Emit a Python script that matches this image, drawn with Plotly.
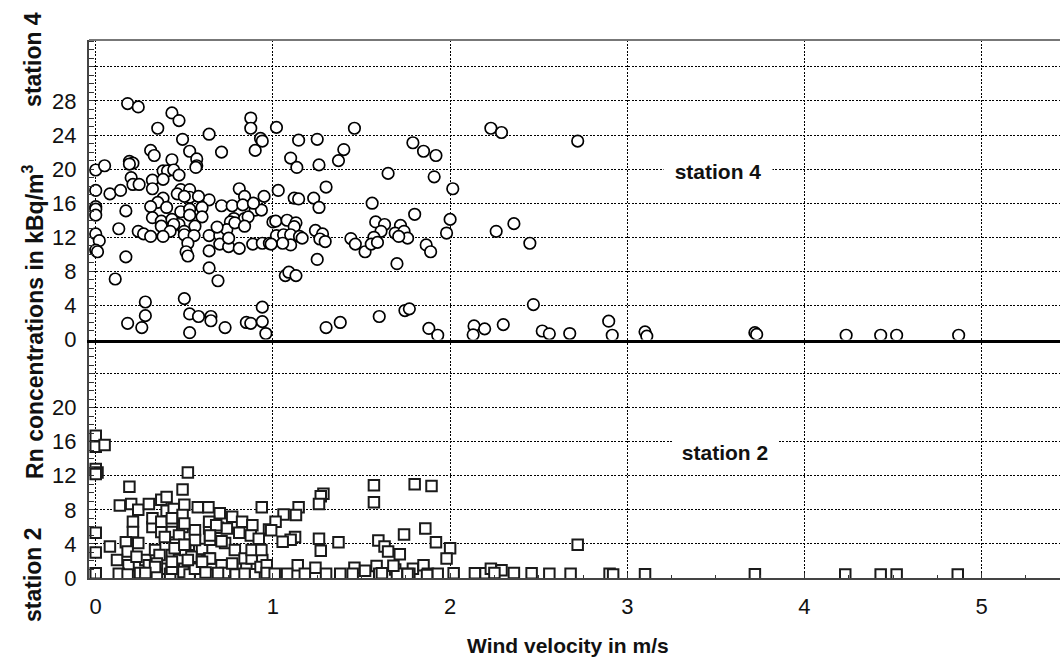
import plotly.graph_objects as go

# Station 4: wind velocity (m/s) and Rn concentration (kBq/m3)
wind4 = [
    0.18, 0.24, 0.43, 0.47, 0.35, 0.875, 0.875, 0.64, 0.49, 0.93, 0.94, 0.90, 0.31, 0.33, 0.53,
    0.71, 0.57, 0.57, 0.565, 0.43, 0.19, 0.21, 0.19, 0.0, 0.05, 0.38, 0.405, 0.44, 0.47, 0.20,
    0.21, 0.245, 0.32, 0.32, 0.38, 0.0, 0.08, 0.14, 0.48, 0.53, 0.53, 0.46, 0.50, 0.81, 0.84,
    0.95, 0.64, 0.0, 0.0, 0.0, 0.17, 0.38, 0.35, 0.31, 0.40, 0.48, 0.53, 0.60, 0.58, 0.71,
    0.77, 0.83, 0.90, 0.935, 0.89, 0.32, 0.37, 0.43, 0.60, 0.53, 0.78, 0.76, 0.84, 0.86, 1.0,
    0.47, 0.44, 0.56, 0.50, 0.37, 0.42, 0.13, 0.0, 0.02, 0.0, 0.01, 0.24, 0.27, 0.31, 0.38,
    0.50, 0.555, 0.52, 0.51, 0.52, 0.64, 0.70, 0.74, 0.685, 0.785, 0.84, 0.64, 0.70, 0.75, 0.81,
    0.75, 0.886, 0.94, 0.98, 0.17, 0.64, 0.11, 0.69, 0.50, 0.28, 0.28, 0.18, 0.26, 0.53, 0.58,
    0.65, 0.65, 0.53, 0.73, 0.85, 0.875, 0.94, 0.94, 0.96,
    1.02, 1.145, 1.25, 1.46, 1.10, 1.135, 1.26, 1.37, 1.40, 1.65, 1.79, 1.85, 1.92, 1.91, 2.015,
    1.03, 1.30, 1.12, 1.145, 1.23, 1.26, 1.56, 1.80, 2.0, 1.98, 1.016, 1.08, 1.13, 1.12, 1.02,
    1.06, 1.10, 1.10, 1.15, 1.165, 1.055, 0.99, 1.24, 1.28, 1.265, 1.295, 1.44, 1.465, 1.52, 1.58,
    1.63, 1.61, 1.57, 1.555, 1.59, 1.72, 1.69, 1.74, 1.76, 1.71, 1.865, 1.89, 1.25, 1.70, 1.07,
    1.09, 1.13, 1.745, 1.77, 1.60, 1.30, 1.38, 1.88, 1.93,
    2.23, 2.29, 2.72, 2.26, 2.36, 2.45, 2.47, 2.135, 2.13, 2.195, 2.30, 2.52, 2.56, 2.675, 2.895,
    2.915, 3.10, 3.11, 3.72, 3.73, 4.235, 4.43, 4.52, 4.87,
]
rn4 = [
    27.7, 27.3, 26.6, 25.7, 24.8, 26.0, 24.8, 24.1, 23.5, 23.6, 23.3, 22.2, 22.2, 21.6, 22.1,
    22.0, 21.2, 20.4, 20.2, 21.1, 20.9, 20.7, 20.6, 19.9, 20.4, 19.8, 19.8, 19.9, 19.3, 19.0,
    18.2, 18.2, 18.7, 17.7, 18.8, 17.5, 17.1, 17.5, 17.6, 17.6, 16.7, 17.1, 16.8, 17.7, 16.8,
    16.8, 16.4, 15.6, 15.3, 14.6, 15.1, 16.6, 16.1, 15.6, 15.5, 15.0, 15.3, 15.5, 16.8, 15.7,
    15.7, 15.8, 15.2, 15.2, 16.0, 14.3, 13.9, 14.1, 14.4, 14.6, 14.2, 13.8, 14.2, 14.4, 13.8,
    13.5, 13.5, 13.3, 12.7, 13.3, 12.7, 13.0, 12.4, 11.6, 10.5, 10.3, 12.7, 12.4, 12.1, 12.1,
    12.3, 12.2, 11.3, 10.3, 9.8, 12.2, 12.2, 12.9, 13.2, 13.7, 13.3, 10.4, 11.2, 10.9, 10.7,
    11.9, 11.2, 11.3, 11.3, 9.7, 8.4, 7.1, 6.9, 4.8, 4.4, 2.8, 1.9, 1.4, 3.0, 2.7,
    2.7, 2.2, 0.8, 1.4, 2.0, 1.9, 3.8, 2.1, 0.7,
    24.9, 23.4, 23.5, 24.8, 21.3, 20.2, 20.5, 21.0, 22.3, 19.5, 23.1, 22.1, 21.6, 19.1, 17.7,
    17.5, 17.9, 16.6, 16.5, 16.6, 15.5, 16.0, 14.7, 14.1, 12.5, 13.9, 14.0, 13.7, 13.25, 12.2,
    12.3, 12.3, 11.1, 12.1, 11.9, 11.3, 11.2, 12.8, 12.4, 11.8, 11.5, 11.85, 11.2, 10.3, 13.8,
    13.5, 12.7, 12.0, 11.2, 11.4, 13.4, 12.5, 12.7, 11.9, 12.1, 11.1, 10.3, 9.4, 8.9, 7.5,
    7.9, 7.5, 3.4, 3.6, 2.7, 1.4, 2.0, 1.3, 0.5,
    24.8, 24.3, 23.3, 12.7, 13.6, 11.3, 4.1, 1.6, 0.55, 1.25, 1.75, 1.0, 0.67, 0.7, 2.15,
    0.5, 0.9, 0.4, 0.8, 0.6, 0.5, 0.5, 0.5, 0.5,
]

# Station 2: wind velocity (m/s) and Rn concentration (kBq/m3)
wind2 = [
    0.0, 0.0, 0.05, 0.0, 0.01, 0.0, 0.52, 0.19, 0.49,
    0.136, 0.20, 0.24, 0.30, 0.37, 0.40, 0.40, 0.44, 0.50, 0.49, 0.576, 0.636, 0.70, 0.77, 0.826,
    0.884, 0.937, 0.978,
    0.21, 0.21, 0.32, 0.37, 0.43, 0.49, 0.56, 0.64, 0.69, 0.74, 0.81, 0.875, 0.92, 0.73,
    0.0, 0.0, 0.0,
    0.08, 0.17, 0.18, 0.24, 0.28, 0.335, 0.36, 0.43, 0.49, 0.525, 0.60, 0.645, 0.71, 0.785, 0.84,
    0.91,
    0.12, 0.185, 0.30, 0.37, 0.47, 0.50, 0.57, 0.64, 0.71, 0.77, 0.85, 0.94,
    0.13, 0.18, 0.25, 0.345, 0.42, 0.495, 0.53, 0.59, 0.655, 0.73, 0.79, 0.84, 0.90, 0.955,
    0.32, 0.37, 0.43, 0.50, 0.64, 0.68, 0.39, 0.47, 0.56, 0.645, 0.45, 0.505, 0.54, 0.23, 0.345,
    0.43, 0.56, 0.88, 0.93,
    0.445, 0.50, 0.645, 0.88, 0.935, 0.335, 0.43, 0.52, 0.60, 0.77, 0.965,
    0.28, 0.62, 0.69, 0.965,
    1.57, 1.57, 1.80, 1.895, 1.285, 1.27, 1.26, 1.145, 1.06, 1.13, 1.015, 0.99, 1.125, 1.10, 1.055,
    1.26, 1.27, 1.37, 1.595, 1.63, 1.65, 1.716, 1.74, 1.86, 1.92, 2.0, 1.98, 1.14, 1.24, 1.46,
    1.52, 1.585, 1.69, 1.79, 1.85, 2.02, 1.01, 1.08, 1.18, 1.30, 1.38, 1.45, 1.60, 1.70, 1.77,
    1.875, 1.93, 1.615, 1.68, 1.87, 1.76,
    2.72, 2.14, 2.20, 2.23, 2.29, 2.25, 2.36, 2.46, 2.56, 2.68, 2.90, 2.92, 3.10, 3.72, 4.23,
    4.43, 4.52, 4.865,
]
rn2 = [
    16.7, 15.4, 15.6, 12.8, 12.4, 12.2, 12.4, 10.7, 10.4,
    8.5, 8.7, 8.0, 8.7, 9.2, 9.5, 7.9, 8.1, 8.6, 7.4, 8.3, 8.3, 7.6, 7.2, 6.6,
    6.2, 8.3, 5.7,
    6.6, 5.4, 6.0, 5.4, 5.4, 6.0, 5.6, 5.8, 5.9, 5.8, 5.3, 5.0, 4.6, 4.1,
    5.3, 3.0, 0.55,
    3.7, 4.2, 3.1, 4.1, 2.1, 3.3, 2.7, 2.7, 3.1, 3.9, 3.4, 4.5, 4.3, 3.3, 2.3,
    3.1,
    2.1, 1.5, 1.5, 1.1, 2.1, 1.1, 2.1, 2.3, 1.5, 1.1, 1.1, 2.1,
    0.5, 0.4, 0.6, 0.4, 0.5, 0.7, 0.4, 0.5, 0.4, 0.6, 0.4, 0.5, 0.45, 0.5,
    7.0, 6.6, 7.0, 6.4, 6.6, 6.2, 4.8, 5.0, 4.45, 5.0, 3.9, 3.3, 2.5, 2.5, 1.7,
    1.1, 1.1, 2.3, 1.3,
    3.5, 3.9, 2.3, 3.3, 3.3, 1.3, 1.9, 2.1, 1.9, 1.7, 1.5,
    0.6, 0.65, 0.6, 0.6,
    10.9, 8.9, 11.0, 10.8, 9.9, 9.6, 8.7, 8.3, 7.45, 7.4, 6.6, 5.6, 4.8, 4.5, 4.25,
    4.6, 3.2, 4.2, 4.4, 3.7, 3.1, 2.8, 5.1, 5.8, 4.2, 3.5, 2.3, 1.5, 1.2, 1.2,
    0.85, 1.4, 1.0, 1.1, 1.5, 0.55, 0.5, 0.5, 0.5, 0.5, 0.5, 0.5, 0.5, 0.5, 0.5,
    0.5, 0.5, 0.55, 1.44, 0.35, 0.47,
    3.9, 0.55, 0.55, 1.1, 0.9, 0.6, 0.6, 0.55, 0.5, 0.5, 0.5, 0.4, 0.45, 0.45, 0.4,
    0.4, 0.4, 0.4,
]

# Axis ticks
x_ticks = [0, 1, 2, 3, 4, 5]
y2_ticks = [0, 4, 8, 12, 16, 20, 24]
y2_labels = ["0", "4", "8", "12", "16", "20", " "]
y4_ticks = [0, 4, 8, 12, 16, 20, 24, 28, 32]
y4_labels = ["0", "4", "8", "12", "16", "20", "24", "28", " "]

X_RANGE = [-0.038, 5.442]
Y2_RANGE = [0, 28]
Y4_RANGE = [0, 35.16]
SPLIT = 0.4433  # fraction of plot height used by the station 2 panel

FONT = "Liberation Sans, Arial, sans-serif"
GRID = dict(showgrid=True, gridcolor="#000000", gridwidth=1, griddash="2px,1.5px",
            zeroline=False)

fig = go.Figure()
fig.add_trace(go.Scatter(
    x=wind2, y=rn2, mode="markers", xaxis="x", yaxis="y",
    marker=dict(symbol="square", size=10.5, color="white",
                line=dict(color="#1a1a1a", width=2)),
    showlegend=False,
))
fig.add_trace(go.Scatter(
    x=wind4, y=rn4, mode="markers", xaxis="x2", yaxis="y2",
    marker=dict(symbol="circle", size=11.5, color="white",
                line=dict(color="#000000", width=1.7)),
    showlegend=False,
))

yaxis_common = dict(
    **GRID,
    tickmode="array",
    ticks="inside", ticklen=5, tickcolor="#333",
    minor=dict(tickmode="linear", tick0=0, dtick=1, ticks="inside", ticklen=5,
               tickcolor="#333", showgrid=False),
    showline=True, linecolor="#444", linewidth=2,
    tickfont=dict(family=FONT, size=22, color="#111"),
    ticklabelstandoff=6,
    anchor="x",
)

fig.update_layout(
    width=1060, height=661,
    margin=dict(l=89, r=0, t=40, b=83),
    paper_bgcolor="white", plot_bgcolor="white",
    xaxis=dict(
        **GRID, range=X_RANGE, domain=[0, 1], anchor="y",
        tickmode="array", tickvals=x_ticks, ticktext=[str(v) for v in x_ticks],
        ticks="inside", ticklen=5, tickcolor="#333",
        minor=dict(tickmode="linear", tick0=0, dtick=0.25, ticks="inside", ticklen=3,
                   tickcolor="#333", showgrid=False),
        showline=True, linecolor="#444", linewidth=2,
        tickfont=dict(family=FONT, size=22, color="#111"),
        ticklabelstandoff=8,
    ),
    xaxis2=dict(
        **GRID, range=X_RANGE, domain=[0, 1], anchor="y2", matches="x",
        tickmode="array", tickvals=x_ticks, showticklabels=False, ticks="",
        showline=True, linecolor="#000000", linewidth=2.5,
    ),
    yaxis=dict(yaxis_common, range=Y2_RANGE, domain=[0, SPLIT],
               tickvals=y2_ticks, ticktext=y2_labels),
    yaxis2=dict(yaxis_common, range=Y4_RANGE, domain=[SPLIT, 1], anchor="x2",
                tickvals=y4_ticks, ticktext=y4_labels),
    font=dict(family=FONT, color="#111"),
)

# top frame line
fig.add_shape(type="line", xref="paper", yref="paper", x0=0, x1=1, y0=1, y1=1,
              line=dict(color="#777", width=2), layer="above")

bold = dict(family=FONT, size=21, color="#111")
bold_v = dict(family=FONT, size=23, color="#111")

# in-panel station labels
fig.add_annotation(x=3.51, y=19.8, xref="x2", yref="y2", text="<b>station 4</b>",
                   showarrow=False, font=bold, bgcolor="white", width=108, height=26,
                   borderpad=0, xanchor="center", yanchor="middle")
fig.add_annotation(x=3.55, y=14.8, xref="x", yref="y", text="<b>station 2</b>",
                   showarrow=False, font=bold, bgcolor="white", width=104, height=26,
                   borderpad=0, xanchor="center", yanchor="middle")

# axis titles
fig.add_annotation(x=0.493, y=0, xref="paper", yref="paper", yshift=-67,
                   xanchor="center", yanchor="middle",
                   text="<b>Wind velocity in m/s</b>", showarrow=False, font=bold)
for label, ypos in [("<b>station 4</b>", 0.963),
                    ("<b>Rn concentrations in kBq/m<sup>3</sup></b>", 0.476),
                    ("<b>station 2</b>", 0.0056)]:
    fig.add_annotation(x=0, y=ypos, xref="paper", yref="paper", xshift=-56,
                       xanchor="center", yanchor="middle",
                       text=label, textangle=-90, showarrow=False, font=bold_v)

fig.write_html("out.html")
